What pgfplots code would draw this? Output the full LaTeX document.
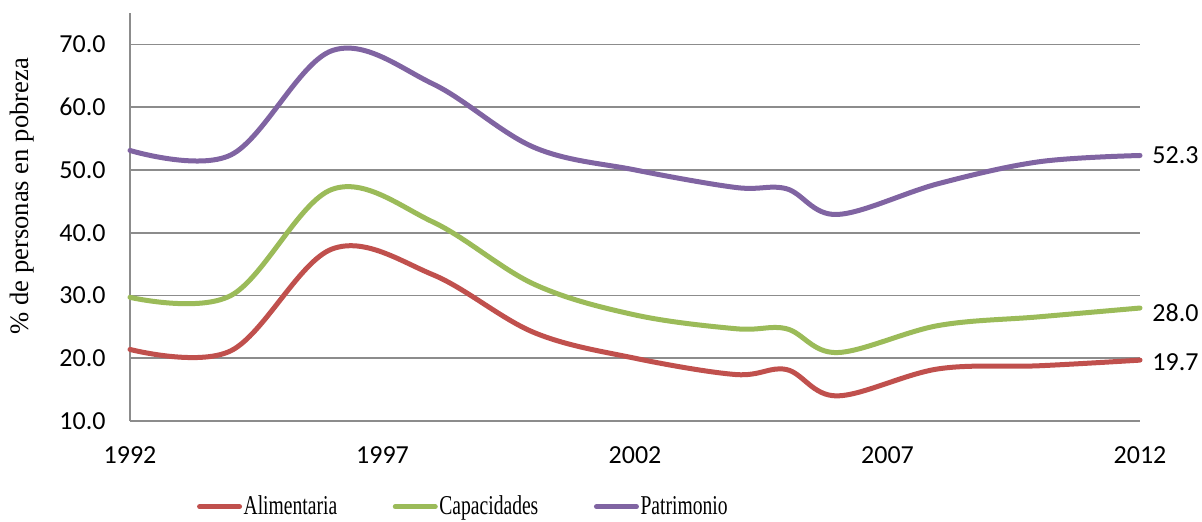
\documentclass[border=0pt]{standalone}
\usepackage{graphicx}
\usepackage{fontspec}
\setmainfont{Liberation Serif}
\newfontfamily\calibri{Carlito}
\usepackage{pgfplots}
\pgfplotsset{compat=1.18}
\definecolor{cRed}{HTML}{C0504D}
\definecolor{cGreen}{HTML}{9BBB59}
\definecolor{cPurple}{HTML}{8064A2}
\definecolor{cGrid}{HTML}{8C8C8C}
\begin{document}
\begin{tikzpicture}
\useasboundingbox (-65pt,-50pt) rectangle (536pt,210.5pt);
\begin{axis}[
  scale only axis,
  width=505pt, height=204pt,
  xmin=1992, xmax=2012, ymin=10, ymax=75,
  xtick={1992,1997,2002,2007,2012},
  ytick={10,20,30,40,50,60,70},
  axis x line*=bottom, axis y line*=left,
  axis line style={cGrid, line width=0.8pt, -},
  major tick length=0pt,
  ymajorgrids, grid style={cGrid, line width=0.8pt},
  /pgf/number format/assume math mode=true,
  xticklabel style={font=\fontsize{13}{15}\calibri, /pgf/number format/1000 sep={}, yshift=-9.5pt},
  yticklabel style={font=\fontsize{13}{15}\calibri, /pgf/number format/fixed, /pgf/number format/fixed zerofill, /pgf/number format/precision=1, xshift=-8.7pt},
  ylabel={\% de personas en pobreza},
  ylabel style={font=\fontsize{13.3}{16}\selectfont, at={(axis description cs:-0.107,0.551)}, anchor=center},
  clip=false,
  legend columns=3,
  legend style={at={(axis description cs:0.066,-0.21)}, anchor=west, draw=none, fill=none, inner sep=0pt,
    font=\fontsize{13.6}{16}\selectfont, /tikz/every even column/.append style={column sep=27pt},
    nodes={inner sep=0.8pt}},
  legend cell align=left,
  legend image code/.code={\draw[#1, line width=2.5pt, line cap=round] (0pt,0pt) -- (20pt,0pt);},
  every axis plot/.append style={line width=2.5pt, line cap=round, smooth, tension=0.58},
]
\addplot[cRed] coordinates {(1992,21.4) (1994,21.2) (1996,37.4) (1998,33.3) (2000,24.1) (2002,20.0) (2004,17.4) (2005,18.2) (2006,14.0) (2008,18.3) (2010,18.8) (2012,19.7)};
\addlegendentry{\scalebox{0.72}[1]{Alimentaria}}
\addplot[cGreen] coordinates {(1992,29.7) (1994,30.0) (1996,46.9) (1998,41.7) (2000,31.8) (2002,26.9) (2004,24.7) (2005,24.7) (2006,20.9) (2008,25.2) (2010,26.6) (2012,28.0)};
\addlegendentry{\scalebox{0.72}[1]{Capacidades}}
\addplot[cPurple] coordinates {(1992,53.1) (1994,52.4) (1996,69.0) (1998,63.7) (2000,53.6) (2002,50.0) (2004,47.2) (2005,47.0) (2006,42.9) (2008,47.8) (2010,51.3) (2012,52.3)};
\addlegendentry{\scalebox{0.72}[1]{Patrimonio}}
\node[anchor=west, inner sep=0pt, xshift=6pt, font=\fontsize{13}{15}\calibri] at (axis cs:2012,52.3) {52.3};
\node[anchor=west, inner sep=0pt, xshift=6pt, yshift=-2.5pt, font=\fontsize{13}{15}\calibri] at (axis cs:2012,28.0) {28.0};
\node[anchor=west, inner sep=0pt, xshift=6pt, yshift=-1pt, font=\fontsize{13}{15}\calibri] at (axis cs:2012,19.7) {19.7};
\end{axis}
\end{tikzpicture}
\end{document}
